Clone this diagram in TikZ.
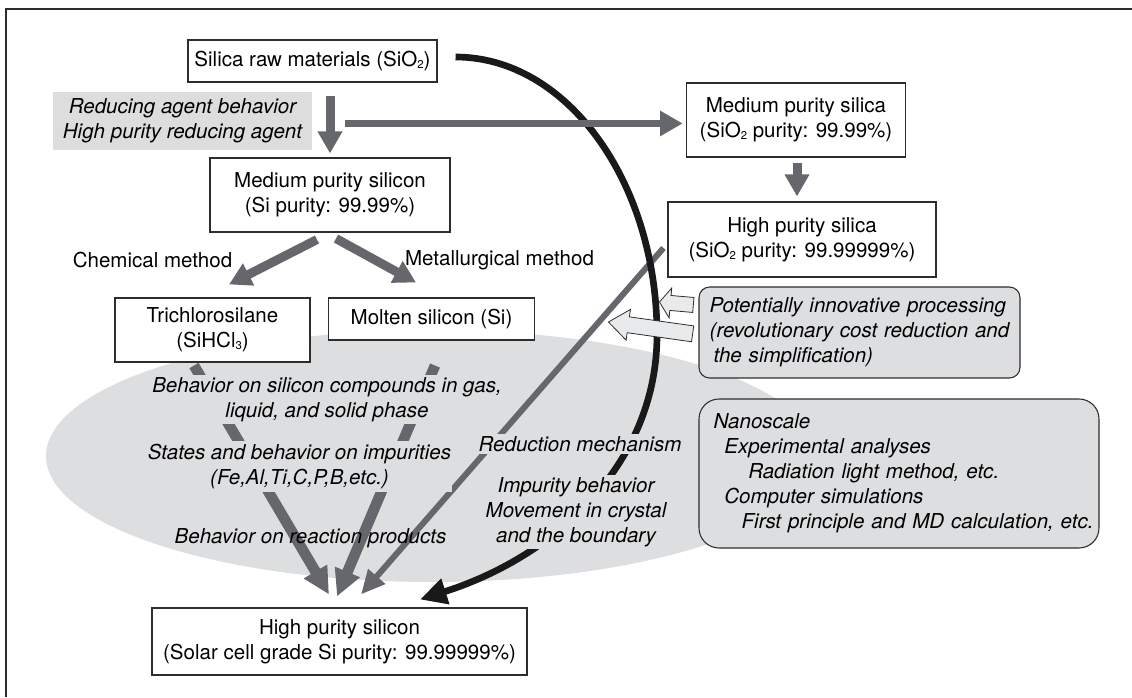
\documentclass[tikz,border=0pt]{standalone}
\usepackage{fontspec}
\setmainfont{TeX Gyre Heros}
\usetikzlibrary{arrows.meta,calc}

\newcommand{\lowsub}[1]{\raisebox{-0.2ex}{\fontsize{8.5}{8.5}\selectfont #1}}
\newcommand{\basefont}{\fontsize{15.4}{18.75}\selectfont}

\begin{document}
\begin{tikzpicture}[x=0.75pt,y=-0.75pt,font=\basefont]
    % Colours
    \definecolor{framecolor}{RGB}{45,45,45}
    \definecolor{ellcolor}{RGB}{221,222,224}
    \definecolor{labelcolor}{RGB}{221,221,221}
    \definecolor{arrcolor}{RGB}{102,103,108}
    \definecolor{hollowcolor}{RGB}{233,234,236}
    \tikzset{
        box/.style={draw=framecolor,line width=0.8pt,fill=white,align=center,inner sep=0pt},
        roundbox/.style={draw=framecolor,line width=0.8pt,fill=ellcolor,inner sep=0pt},
        note/.style={font=\basefont\itshape,align=center},
        cutnote/.style={note,fill=ellcolor,inner xsep=1pt,inner ysep=2pt},
        fatarrow/.style={arrcolor,line width=6.75pt,-{Triangle[length=16.5pt,width=17.5pt]}},
        sinkarrow/.style={arrcolor,line width=8pt,-{Triangle[length=20pt,width=19pt]}},
        slimarrow/.style={arrcolor,line width=4.5pt,-{Triangle[length=18pt,width=16pt]}},
        blackarrow/.style={black!90,line width=5pt,-{Triangle[length=20pt,width=19pt]}},
        hollow/.style={draw=framecolor,line width=0.6pt,fill=hollowcolor,line join=miter}
    }

    \useasboundingbox (0,0) rectangle (1132,697);

    % Frame
    \draw[framecolor,line width=0.8pt] (6,697) -- (6,9) -- (1132,9);

    % Shaded region
    \fill[ellcolor] (432,456) ellipse [x radius=289.5pt, y radius=94.5pt];

    % Boxes
    \node[box,minimum width=186.75pt,minimum height=31.5pt] (raw) at (312.5,61) {Silica raw materials (SiO\lowsub{2})};
    \node[note,fill=labelcolor,minimum width=194.25pt,minimum height=43.5pt,inner sep=0pt] (agent) at (182.5,121) {Reducing agent behavior\\High purity reducing agent};
    \node[box,minimum width=180pt,minimum height=55.5pt] (medsilicon) at (330,195) {Medium purity silicon\\(Si purity: 99.99\%)};
    \node[box,minimum width=164.6pt,minimum height=55.5pt] (medsilica) at (796,120) {Medium purity silica\\(SiO\lowsub{2} purity: 99.99\%)};
    \node[box,minimum width=201pt,minimum height=56.25pt] (hisilica) at (802,239.5) {High purity silica\\(SiO\lowsub{2} purity: 99.99999\%)};
    \node[box,minimum width=146.25pt,minimum height=48pt] (trichlo) at (212.5,330) {Trichlorosilane\\(SiHCl\lowsub{3})};
    \node[box,minimum width=154.5pt,minimum height=31.5pt] (molten) at (431.5,319) {Molten silicon (Si)};
    \node[box,minimum width=281.25pt,minimum height=50.25pt] (hisilicon) at (339.5,641.5) {High purity silicon\\(Solar cell grade Si purity: 99.99999\%)};

    % Method labels
    \node (chem) at (152.5,260) {Chemical method};
    \node (metal) at (499.5,260) {Metallurgical method};

    % Rounded boxes
    \node[roundbox,note,align=left,rounded corners=8pt,minimum height=68.25pt,text width=240.75pt] (innov) at (859.5,332.5) {\hspace*{8pt}Potentially innovative processing\\\hspace*{8pt}(revolutionary cost reduction and\\\hspace*{11pt}the simplification)};
    \node[roundbox,note,align=left,rounded corners=15pt,minimum height=111.75pt,text width=300pt] (nano) at (899,473.5) {\hspace*{11pt}Nanoscale\\\hspace*{19pt}Experimental analyses\\\hspace*{37pt}Radiation light method, etc.\\\hspace*{19pt}Computer simulations\\\hspace*{32pt}First principle and MD calculation, etc.};

    % Paths into high purity silicon
    \draw[sinkarrow] ($(trichlo.south)+(-18.5,3)$) -- ($(hisilicon.north)+(-10.5,-13)$);
    \draw[sinkarrow] ($(molten.south)+(3.5,25)$) -- ($(hisilicon.north)+(-2.5,-11)$);
    \draw[slimarrow] ($(hisilica.west)+(-4,8.5)$) -- ($(hisilicon.north)+(21.5,-13)$);

    % Direct route
    \coordinate (bend) at (657,335);
    \draw[blackarrow] ($(raw.east)+(18,-4)$) .. controls (567,57) and (657,182) .. (bend)
        .. controls (657,460) and (560,555) .. ($(hisilicon.north)+(80.5,-8)$);

    % Texts in the shaded region
    \node[cutnote] (gasliq) at (327,399.5) {Behavior on silicon compounds in gas,\\liquid, and solid phase};
    \node[cutnote] (impur) at (299.5,466.5) {States and behavior on impurities\\(Fe,Al,Ti,C,P,B,etc.)};
    \node[note] (products) at (310.5,538) {Behavior on reaction products};
    \node[cutnote] (reduct) at (580,444) {Reduction mechanism};
    \node[cutnote] (movement) at (576,512) {Impurity behavior\\Movement in crystal\\and the boundary};

    % Upper arrows
    \coordinate (branch) at ($(medsilicon.north)+(0,-34)$);
    \draw[fatarrow] ($(medsilicon.north |- raw.south)+(0,13)$) -- ($(medsilicon.north)+(0,-4)$);
    \draw[arrcolor,line width=5.5pt,-{Triangle[length=17pt,width=18pt]}] ($(branch)+(15,0)$) -- ($(medsilica.west |- branch)+(-3,0)$);
    \draw[fatarrow] ($(medsilica.south)+(1,5)$) -- ($(medsilica.south |- hisilica.north)+(1,-5)$);
    \draw[fatarrow] ($(medsilicon.south)+(-13,7)$) -- ($(trichlo.north)+(16.5,-13)$);
    \draw[fatarrow] ($(medsilicon.south)+(6,6)$) -- ($(molten.north)+(-15.5,-15)$);

    % Hollow arrows from innovative processing
    \coordinate (tipA) at ($(innov.west)+(-39,-30.5)$);
    \coordinate (tipB) at ($(innov.west)+(-90,-10.5)$);
    \begin{scope}[shift={(tipA)},rotate=-5]
        \draw[hollow] (0,0) -- (11,-15) -- (11,-7.5) -- (34,-7.5) -- (34,7.5) -- (11,7.5) -- (11,15) -- cycle;
    \end{scope}
    \begin{scope}[shift={(tipB)},rotate=-8]
        \draw[hollow] (0,0) -- (20,-15.5) -- (20,-8) -- (85,-8) -- (85,8) -- (20,8) -- (20,15.5) -- cycle;
    \end{scope}

\end{tikzpicture}
\end{document}
